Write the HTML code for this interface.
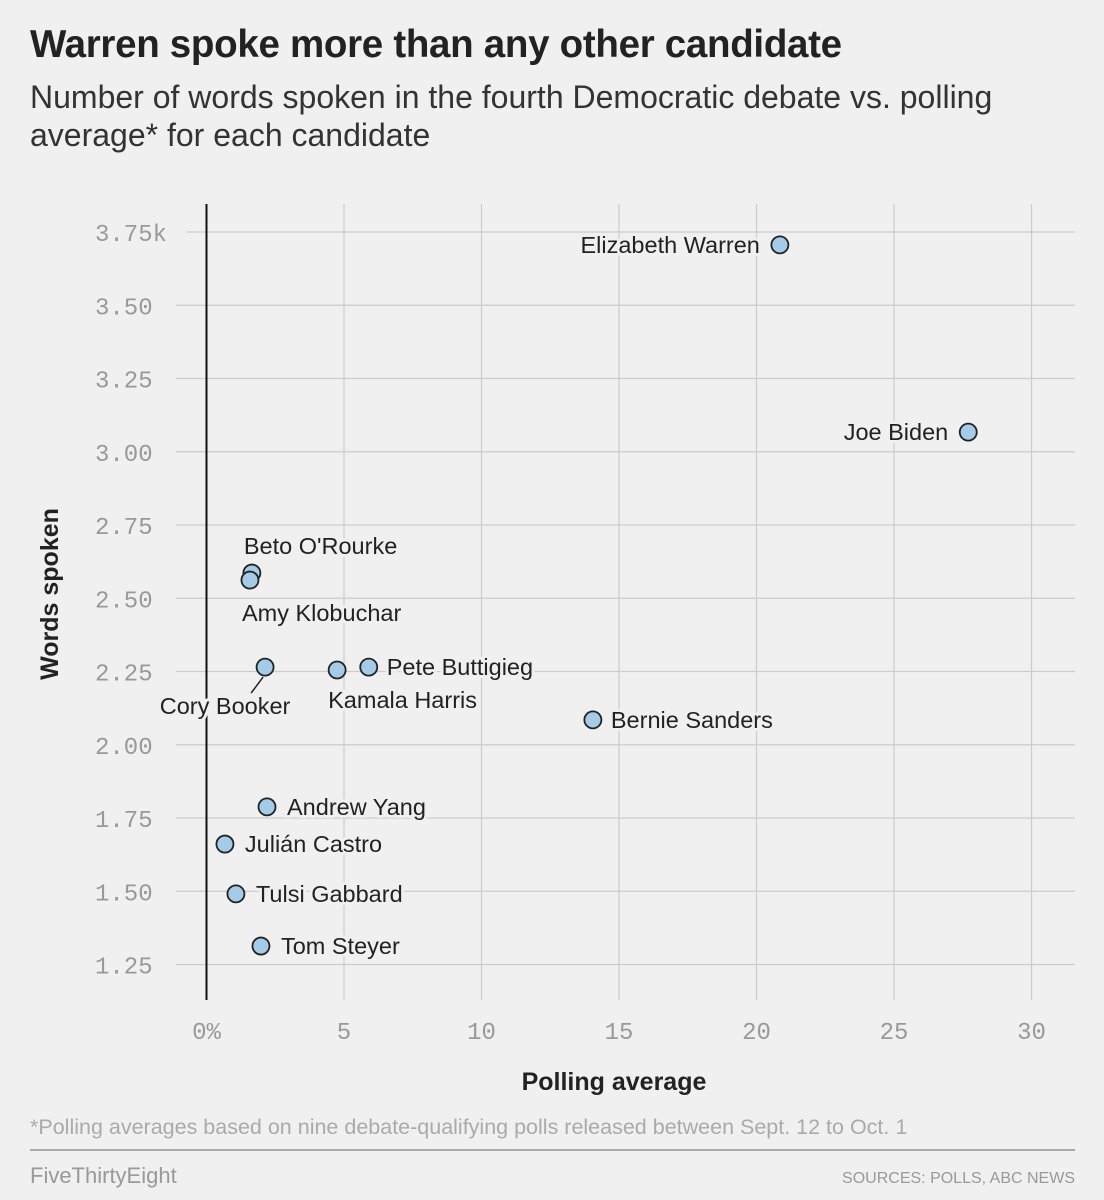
<!DOCTYPE html>
<html><head><meta charset="utf-8"><style>
body{margin:0;background:#f0f0f0;width:1104px;height:1200px;overflow:hidden;font-family:"Liberation Sans",sans-serif;}
#title{position:absolute;left:30px;top:23px;font-size:38.5px;font-weight:bold;color:#222;letter-spacing:-0.3px}
#sub{position:absolute;left:30px;top:78px;font-size:32px;color:#333;line-height:38px;width:1040px}
svg{position:absolute;left:0;top:0}
</style></head><body>
<div id="title">Warren spoke more than any other candidate</div>
<div id="sub">Number of words spoken in the fourth Democratic debate vs. polling average* for each candidate</div>
<svg id="chart" width="1104" height="1200"></svg>
<script>
const names=["Elizabeth Warren","Joe Biden","Beto O'Rourke","Amy Klobuchar","Cory Booker","Kamala Harris","Pete Buttigieg","Bernie Sanders","Andrew Yang","Julián Castro","Tulsi Gabbard","Tom Steyer"];
const polls=[20.85,27.7,1.65,1.58,2.13,4.75,5.9,14.05,2.2,0.67,1.07,1.98];
const words=[3.706,3.067,2.586,2.562,2.265,2.255,2.265,2.085,1.788,1.661,1.491,1.313];
const xTicks=[0,5,10,15,20,25,30];
const xTickLabels=["0%","5","10","15","20","25","30"];
const yTicks=[1.25,1.5,1.75,2,2.25,2.5,2.75,3,3.25,3.5,3.75];
const yTickLabels=["1.25","1.50","1.75","2.00","2.25","2.50","2.75","3.00","3.25","3.50","3.75k"];
const labelPos=[[-20,8,"end"],[-20,8,"end"],[-8,-19,"start"],[-8,41,"start"],[0,0,"custom"],[-9,38,"start"],[18,8,"start"],[18,8,"start"],[20,8,"start"],[20,8,"start"],[20,8,"start"],[20,8,"start"]];
const X=v=>206.5+v*27.5;
const Y=v=>232+(3.75-v)*293;
const S="http://www.w3.org/2000/svg";
const svg=document.getElementById('chart');
function mk(t,a,txt){const e=document.createElementNS(S,t);for(const k in a)e.setAttribute(k,a[k]);if(txt!==undefined)e.textContent=txt;svg.appendChild(e);return e;}
xTicks.forEach((t,i)=>{
  if(t!==0){const l=mk('line',{x1:X(t),x2:X(t),y1:204,y2:1000,stroke:'#ccc','stroke-width':1.2});
  
  }
  const tx=mk('text',{x:X(t),y:1039,'text-anchor':'middle','font-size':24,fill:'#999','font-family':'Liberation Mono, monospace'},xTickLabels[i]);
  
  
});
yTicks.forEach((t,i)=>{
  const l=mk('line',{x1:i==10?187:176,x2:1075,y1:Y(t),y2:Y(t),stroke:'#ccc','stroke-width':1.2});
  
  
  const tx=mk('text',{x:95,y:Y(t)+9,'text-anchor':'start','font-size':24,fill:'#999','font-family':'Liberation Mono, monospace'},yTickLabels[i]);
  
  
});
const ax=mk('line',{x1:X(0),x2:X(0),y1:204,y2:1000,stroke:'#111','stroke-width':2});


const bl=mk('line',{x1:X(polls[4])-2,y1:Y(words[4])+10,x2:X(polls[4])-14,y2:Y(words[4])+26,stroke:'#222','stroke-width':1.5});


names.forEach((n,i)=>{
  const c=mk('circle',{cx:X(polls[i]),cy:Y(words[i]),r:8.5,fill:'#a4cbe8',stroke:'#222','stroke-width':1.8});
  
  
});
names.forEach((n,i)=>{
  const p=labelPos[i];let x,y,a;
  if(p[2]==="custom"){x=X(polls[i])-40;y=Y(words[i])+47;a="middle";}
  else{x=X(polls[i])+p[0];y=Y(words[i])+p[1];a=p[2];}
  const t=mk('text',{x:x,y:y,'text-anchor':a,'font-size':23.5,fill:'#222',stroke:'#f0f0f0','stroke-width':6,'paint-order':'stroke','stroke-linejoin':'round'},n);
  
  
});
const xt=mk('text',{x:614,y:1090,'text-anchor':'middle','font-size':25,'font-weight':'bold',fill:'#222'},'Polling average');


const yt=mk('text',{x:0,y:0,'text-anchor':'middle','font-size':25,'font-weight':'bold',fill:'#222',transform:'translate(58,594) rotate(-90)'},'Words spoken');


const fn=mk('text',{x:30,y:1134,'font-size':21.5,fill:'#aaa'},'*Polling averages based on nine debate-qualifying polls released between Sept. 12 to Oct. 1');


const rl=mk('line',{x1:30,x2:1075,y1:1150,y2:1150,stroke:'#aaa','stroke-width':2});


const br=mk('text',{x:30,y:1183,'font-size':22,fill:'#999'},'FiveThirtyEight');


const src=mk('text',{x:1075,y:1183,'text-anchor':'end','font-size':16,fill:'#999'},'SOURCES: POLLS, ABC NEWS');


</script>
</body></html>
